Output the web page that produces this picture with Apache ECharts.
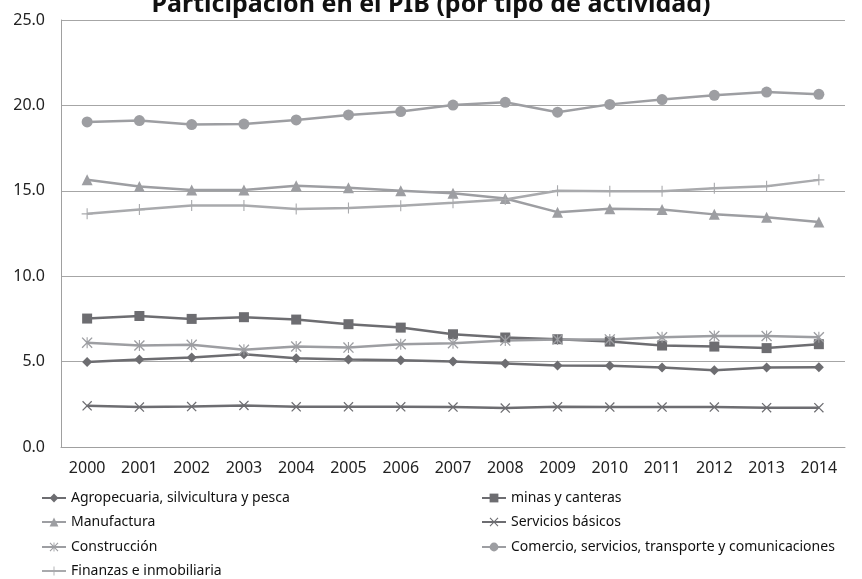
<!DOCTYPE html>
<html>
<head>
<meta charset="utf-8">
<script src="https://cdn.jsdelivr.net/npm/echarts@6/dist/echarts.min.js"></script>
<style>
html,body{margin:0;padding:0;background:#fff;}
#chart{width:862px;height:579px;}
</style>
</head>
<body>
<div id="chart"></div>
<script>
var years = ['2000','2001','2002','2003','2004','2005','2006','2007','2008','2009','2010','2011','2012','2013','2014'];
var yTicks = [0, 5, 10, 15, 20, 25];
var agropecuaria = [4.97, 5.12, 5.24, 5.43, 5.20, 5.12, 5.08, 5.00, 4.89, 4.77, 4.75, 4.65, 4.50, 4.65, 4.67];
var minas = [7.52, 7.67, 7.50, 7.60, 7.46, 7.19, 6.99, 6.60, 6.41, 6.31, 6.17, 5.94, 5.88, 5.79, 6.02];
var manufactura = [15.65, 15.25, 15.05, 15.05, 15.30, 15.18, 15.00, 14.85, 14.55, 13.75, 13.95, 13.90, 13.62, 13.45, 13.18];
var serviciosBasicos = [2.41, 2.34, 2.37, 2.43, 2.35, 2.35, 2.35, 2.34, 2.28, 2.35, 2.34, 2.34, 2.34, 2.30, 2.30];
var construccion = [6.11, 5.94, 5.98, 5.69, 5.88, 5.82, 6.02, 6.08, 6.23, 6.29, 6.30, 6.43, 6.50, 6.50, 6.43];
var comercio = [19.03, 19.11, 18.88, 18.91, 19.15, 19.44, 19.64, 20.02, 20.18, 19.60, 20.06, 20.34, 20.59, 20.78, 20.65];
var finanzas = [13.65, 13.90, 14.14, 14.14, 13.94, 14.00, 14.12, 14.30, 14.49, 15.00, 14.97, 14.97, 15.15, 15.27, 15.64];
var names = ['Agropecuaria, silvicultura y pesca','minas y canteras','Manufactura','Servicios básicos','Construcción','Comercio, servicios, transporte y comunicaciones','Finanzas e inmobiliaria'];

var DARK = '#6d6d71';
var LIGHT = '#9d9ea2';
var LIGHT2 = '#a9aaad';
var X_PATH = 'path://M0,-1.4L6.6,-8L8,-6.6L1.4,0L8,6.6L6.6,8L0,1.4L-6.6,8L-8,6.6L-1.4,0L-8,-6.6L-6.6,-8Z';
var AST_PATH = 'path://M0,-1.4L6.6,-8L8,-6.6L1.4,0L8,6.6L6.6,8L0,1.4L-6.6,8L-8,6.6L-1.4,0L-8,-6.6L-6.6,-8ZM-0.8,-8H0.8V8H-0.8Z';
var PLUS_PATH = 'path://M-0.8,-8H0.8V-0.8H8V0.8H0.8V8H-0.8V0.8H-8V-0.8H-0.8Z';

function mk(name, data, color, symbol, size) {
  return {
    name: name, type: 'line', data: data,
    symbol: symbol, symbolSize: size,
    lineStyle: {color: color, width: 2.5},
    itemStyle: {color: color},
    emphasis: {disabled: true},
    animation: false
  };
}

var legendText = {fontFamily: 'Noto Sans', fontSize: 14, color: '#111'};
function lg(name, left, top) {
  return {orient: 'horizontal', left: left, top: top, padding: 0,
    itemWidth: 24, itemHeight: 11, data: [name], textStyle: legendText, selectedMode: false};
}

var chart = echarts.init(document.getElementById('chart'));
chart.setOption({
  backgroundColor: '#fff',
  title: {
    text: 'Participación en el PIB (por tipo de actividad)',
    left: 'center', top: -13,
    textStyle: {fontFamily: 'Noto Sans', fontSize: 25, fontWeight: 'bold', color: '#111'}
  },
  legend: [
    lg(names[0], 41, 491),
    lg(names[2], 41, 515),
    lg(names[4], 41, 540),
    lg(names[6], 41, 564),
    lg(names[1], 481, 491),
    lg(names[3], 481, 515),
    lg(names[5], 481, 540)
  ],
  grid: {left: 61, right: 17, top: 20, bottom: 132, containLabel: false},
  xAxis: {
    type: 'category', data: years, boundaryGap: true,
    axisLine: {lineStyle: {color: '#a0a0a0', width: 1}},
    axisTick: {show: false},
    axisLabel: {fontFamily: 'Noto Sans', fontSize: 16, color: '#222', margin: 13}
  },
  yAxis: {
    type: 'value', min: yTicks[0], max: yTicks[yTicks.length - 1], interval: 5,
    axisLine: {show: true, lineStyle: {color: '#a0a0a0', width: 1}},
    axisTick: {show: false},
    splitLine: {lineStyle: {color: '#a6a6a6', width: 1}},
    axisLabel: {fontFamily: 'Noto Sans', fontSize: 16, color: '#222', margin: 16,
      formatter: function (v) { return v.toFixed(1); }}
  },
  series: [
    mk(names[0], agropecuaria, DARK, 'diamond', 10),
    mk(names[1], minas, DARK, 'rect', 10),
    mk(names[2], manufactura, LIGHT, 'triangle', 11),
    mk(names[3], serviciosBasicos, DARK, X_PATH, 10),
    mk(names[4], construccion, LIGHT, AST_PATH, 11),
    mk(names[5], comercio, LIGHT, 'circle', 11),
    mk(names[6], finanzas, LIGHT2, PLUS_PATH, 11)
  ]
});
</script>
</body>
</html>
